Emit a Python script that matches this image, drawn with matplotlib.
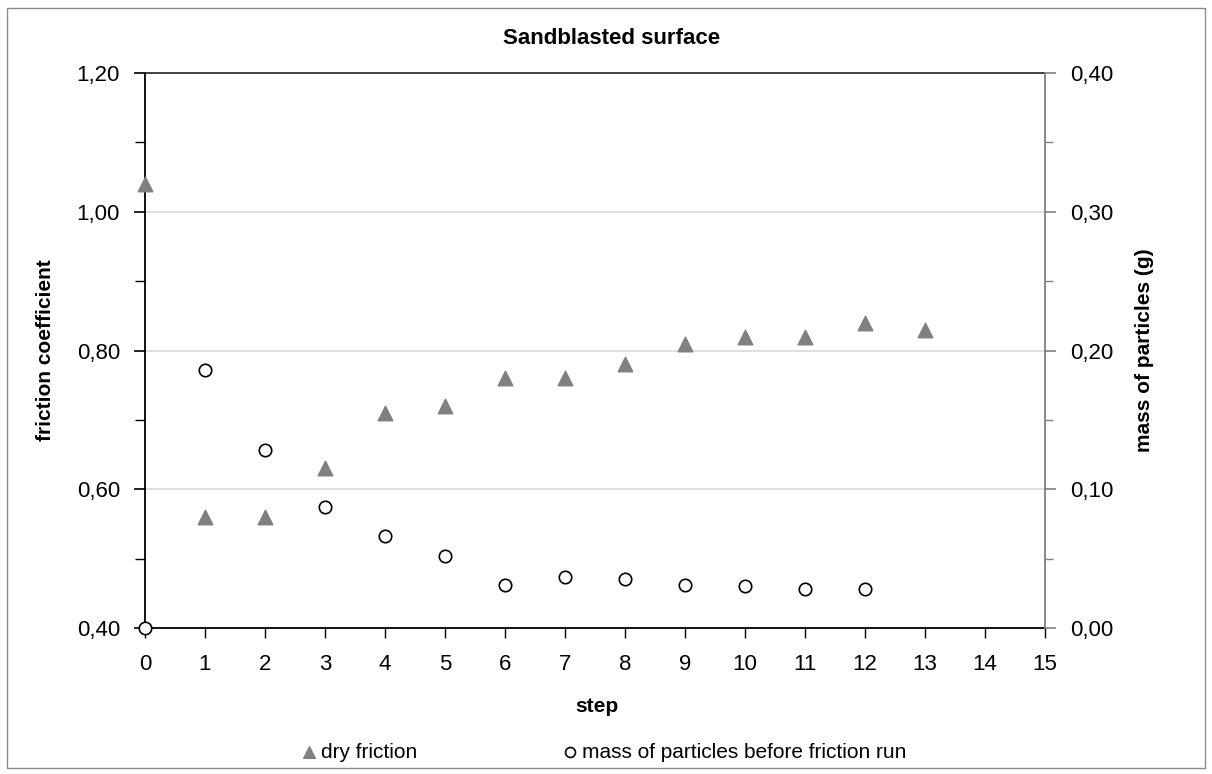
import numpy as np
import matplotlib.pyplot as plt
from matplotlib.ticker import FuncFormatter, MultipleLocator
from matplotlib.patches import Rectangle

plt.rcParams['font.family'] = ['Liberation Sans', 'DejaVu Sans']

steps = [0, 1, 2, 3, 4, 5, 6, 7, 8, 9, 10, 11, 12, 13]
dry_friction = [1.04, 0.56, 0.56, 0.63, 0.71, 0.72, 0.76, 0.76, 0.78, 0.81, 0.82, 0.82, 0.84, 0.83]
mass_steps = [0, 1, 2, 3, 4, 5, 6, 7, 8, 9, 10, 11, 12]
mass = [0.0, 0.186, 0.128, 0.087, 0.066, 0.052, 0.031, 0.037, 0.035, 0.031, 0.030, 0.028, 0.028]

comma = FuncFormatter(lambda v, p: "{:.2f}".format(v).replace(".", ","))

fig = plt.figure(figsize=(12.12, 7.74), dpi=100)
fig.patches.append(Rectangle((0.006, 0.008), 0.988, 0.982, transform=fig.transFigure,
                             fill=False, edgecolor='#8c8c8c', linewidth=1))

ax = fig.add_axes([0.1196, 0.1886, 0.7426, 0.7171])
ax2 = ax.twinx()

ax.scatter(steps, dry_friction, marker='^', s=110, color='#808080', zorder=3,
           label='dry friction', clip_on=False)
ax2.scatter(mass_steps, mass, marker='o', s=80, facecolor='white', edgecolor='black',
            linewidth=1.2, zorder=3, label='mass of particles before friction run', clip_on=False)

ax.set_xlim(0, 15)
ax.set_ylim(0.40, 1.20)
ax2.set_ylim(0, 0.40)
ax.xaxis.set_major_locator(MultipleLocator(1))
ax.yaxis.set_major_locator(MultipleLocator(0.2))
ax.yaxis.set_minor_locator(MultipleLocator(0.1))
ax2.yaxis.set_major_locator(MultipleLocator(0.1))
ax2.yaxis.set_minor_locator(MultipleLocator(0.05))
ax.yaxis.set_major_formatter(comma)
ax2.yaxis.set_major_formatter(comma)

ax.grid(axis='y', color='#d9d9d9', linewidth=1.2)
ax.set_axisbelow(True)

ax.spines['right'].set_visible(False)
ax2.spines['left'].set_visible(False)
ax2.spines['bottom'].set_visible(False)
ax2.spines['top'].set_visible(False)
ax.spines['top'].set_color('#222222')
ax.spines['top'].set_linewidth(1.2)
ax2.spines['right'].set_color('#808080')
ax.spines['left'].set_linewidth(1.3)
ax.spines['bottom'].set_linewidth(1.3)
ax2.spines['right'].set_linewidth(1.3)

ax.tick_params(axis='x', direction='out', length=7, width=1, labelsize=16, pad=12)
ax.tick_params(axis='y', which='major', direction='out', length=8, width=1.2, labelsize=16, pad=10)
ax.tick_params(axis='y', which='minor', direction='out', length=7, width=1)
ax2.tick_params(axis='y', which='major', direction='out', length=8, width=1.2, labelsize=16,
                color='#808080', pad=10)
ax2.tick_params(axis='y', which='minor', direction='out', length=6, width=1, color='#808080')

ax.set_xlabel('step', fontsize=15, fontweight='bold', va='center')
ax.set_ylabel('friction coefficient', fontsize=15, fontweight='bold', va='center')
ax2.set_ylabel('mass of particles (g)', fontsize=15, fontweight='bold', va='center')
ax.xaxis.set_label_coords(0.502, -0.1405)
ax.yaxis.set_label_coords(-0.11, 0.5)
ax2.yaxis.set_label_coords(1.111, 0.5)

fig.text(612 / 1212, 1 - 38 / 774, 'Sandblasted surface', fontsize=16, fontweight='bold',
         ha='center', va='center')

h1, l1 = ax.get_legend_handles_labels()
h2, l2 = ax2.get_legend_handles_labels()
fig.legend(h1 + h2, l1 + l2, loc='center', bbox_to_anchor=(0.497, 0.028), ncol=2,
           frameon=False, fontsize=15, handletextpad=0.1, columnspacing=6.8,
           markerscale=0.8, handlelength=1)

fig.savefig('out.png', dpi=100)
